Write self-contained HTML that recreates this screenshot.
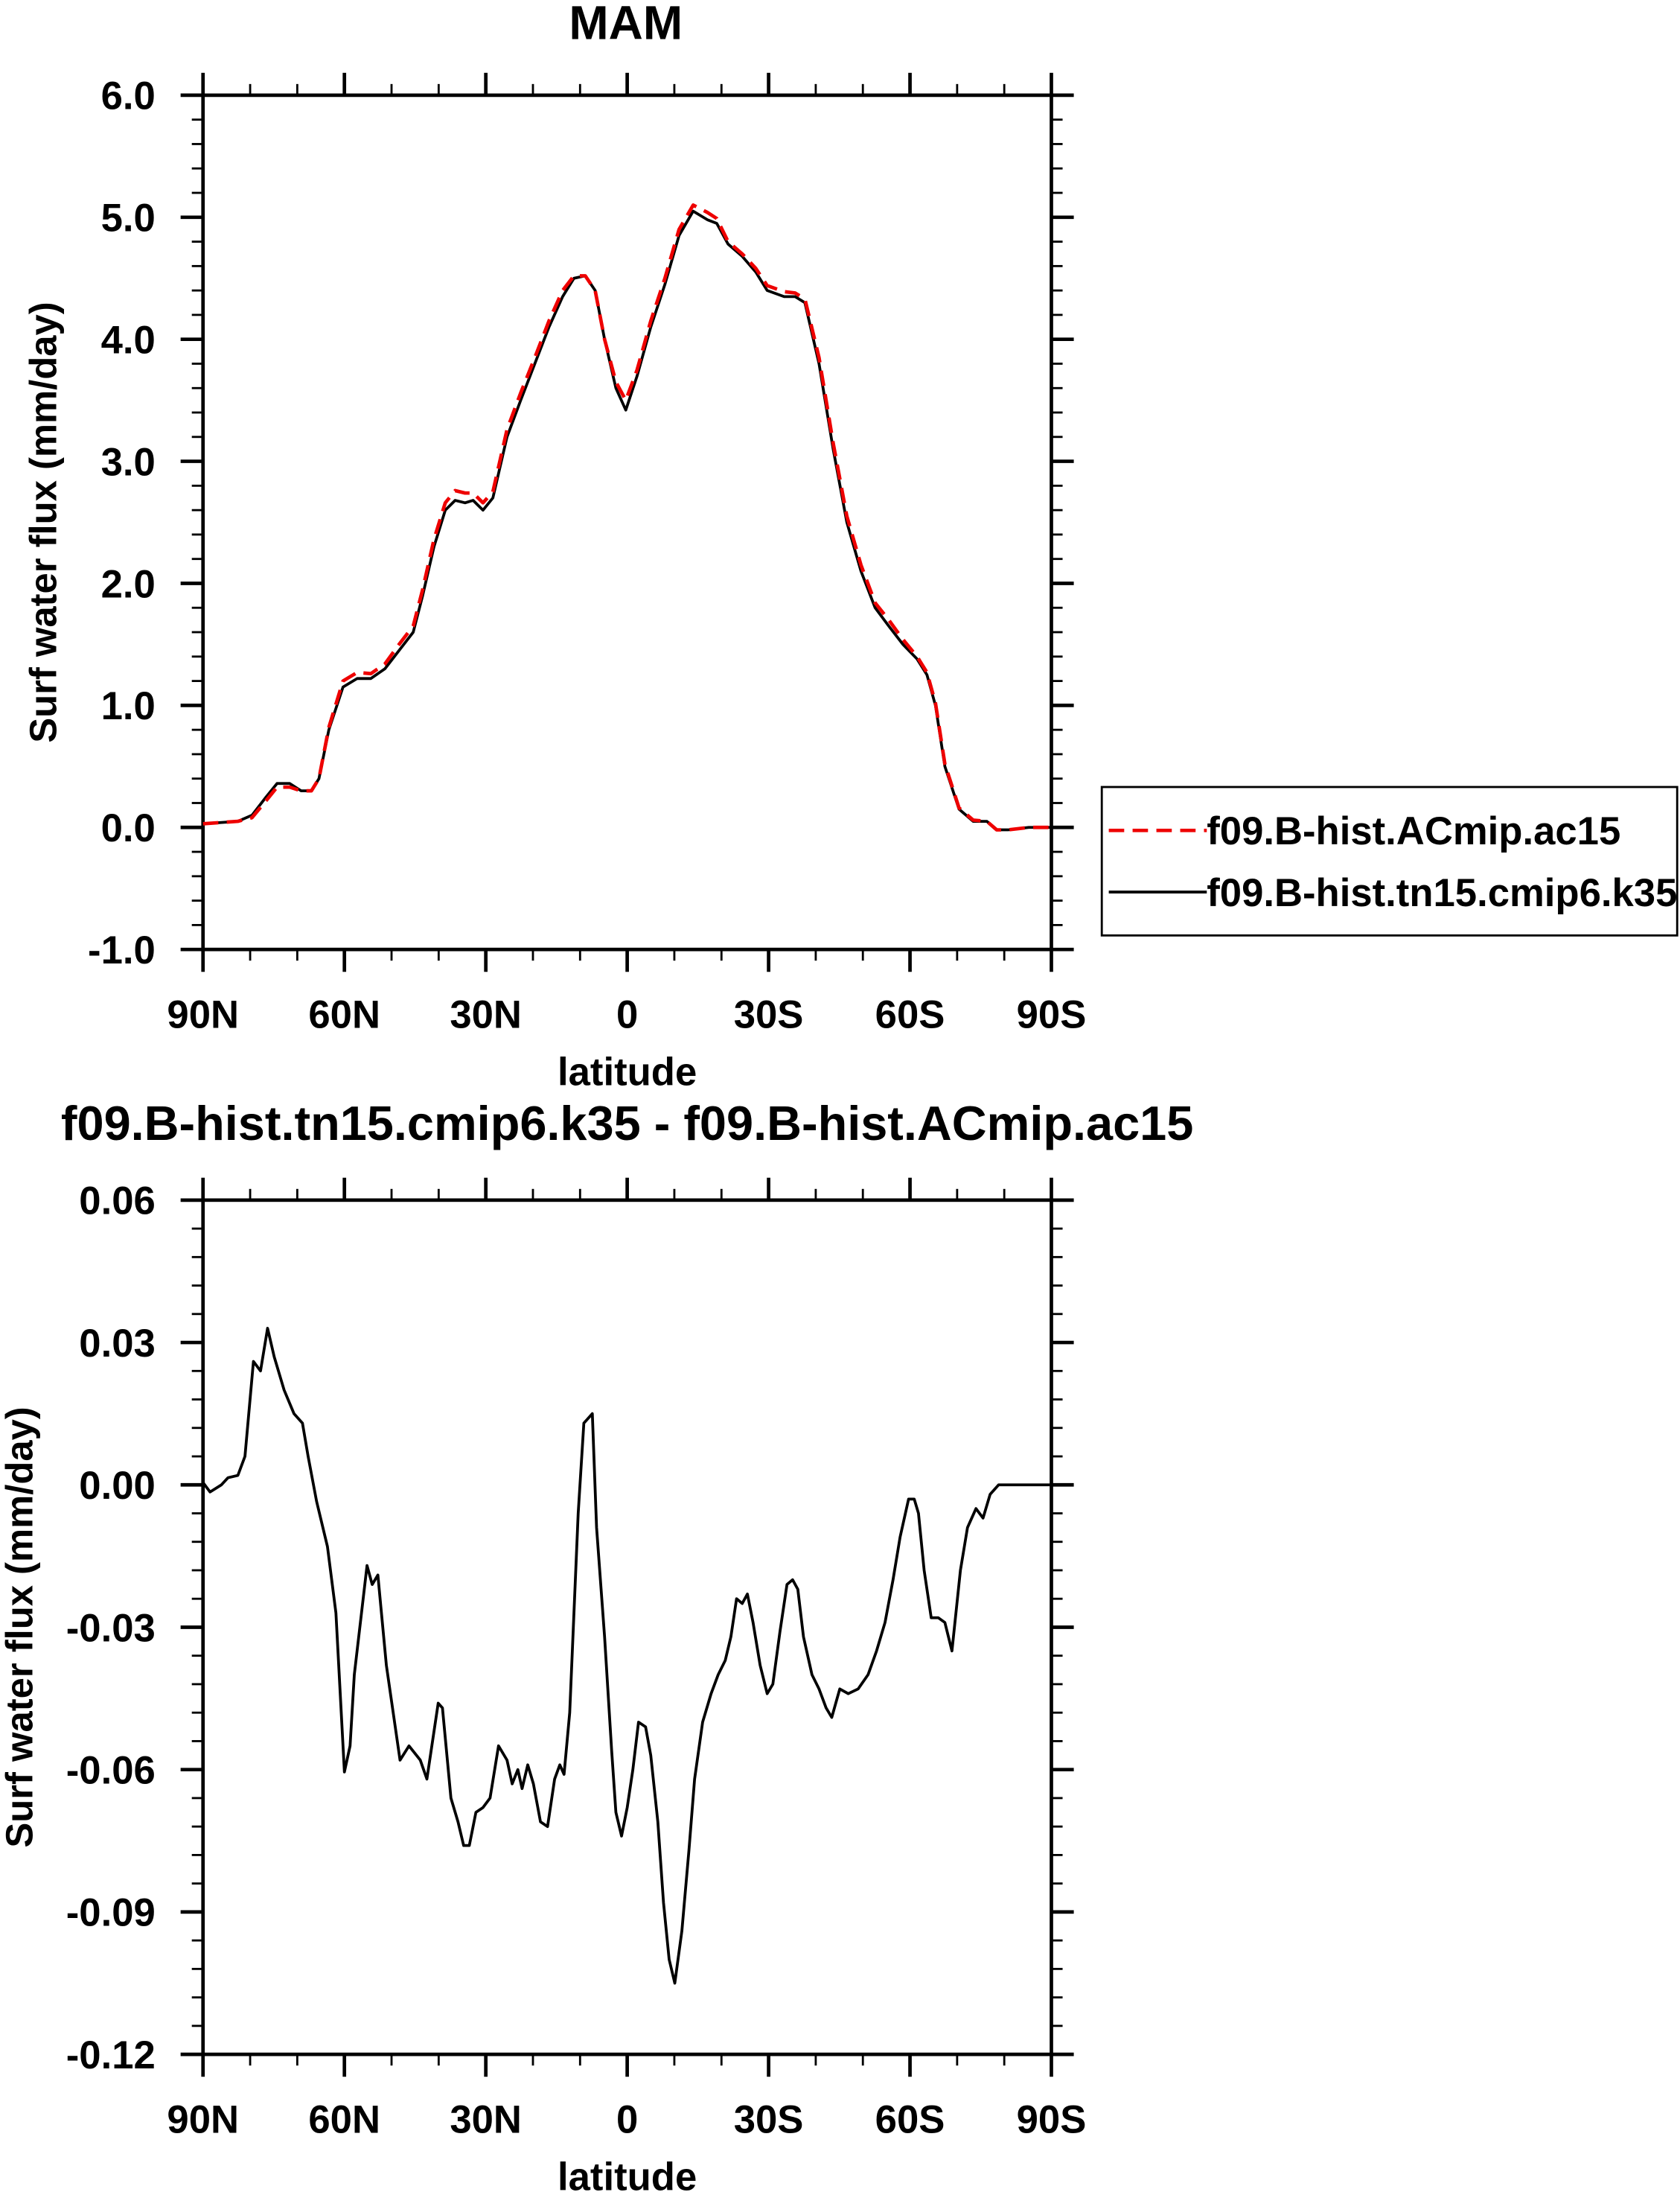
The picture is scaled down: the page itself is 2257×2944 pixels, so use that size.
<!DOCTYPE html>
<html><head><meta charset="utf-8"><style>
html,body{margin:0;padding:0;background:#fff;}
svg{display:block;}
text{font-family:"Liberation Sans",Arial,sans-serif;font-weight:bold;fill:#000;}
</style></head><body>
<svg id="chart" xmlns="http://www.w3.org/2000/svg" width="2257" height="2944" viewBox="0 0 1200 1565.3">
<text x="447" y="28" font-size="34" text-anchor="middle">MAM</text>
<text x="448" y="814" font-size="34.5" text-anchor="middle">f09.B-hist.tn15.cmip6.k35 - f09.B-hist.ACmip.ac15</text>
<g id="top"></g>
<g id="bot"></g>
<g>
<rect x="787" y="562" width="411" height="106" fill="#fff" stroke="#000" stroke-width="1.5"/>
<line x1="792" y1="593" x2="862" y2="593" stroke="#e00" stroke-width="2.5" stroke-dasharray="11,6"/>
<text x="862" y="603" font-size="28">f09.B-hist.ACmip.ac15</text>
<line x1="792" y1="637" x2="862" y2="637" stroke="#000" stroke-width="2"/>
<text x="862" y="647" font-size="28">f09.B-hist.tn15.cmip6.k35</text>
</g>
</svg>
<script>
const xTickLabels=["90N","60N","30N","0","30S","60S","90S"];
const xTickLats=[90,60,30,0,-30,-60,-90];
const topYTicks=[6,5,4,3,2,1,0,-1];
const topYLabels=["6.0","5.0","4.0","3.0","2.0","1.0","0.0","-1.0"];
const botYTicks=[0.06,0.03,0,-0.03,-0.06,-0.09,-0.12];
const botYLabels=["0.06","0.03","0.00","-0.03","-0.06","-0.09","-0.12"];
const topLat=[90,82.6,79.6,76.6,74.3,71.6,69.2,67,65.4,63.3,60.3,57.3,54.4,51.4,48.4,45.4,43.4,41,38.6,36.5,34.4,32.7,30.6,28.5,25.5,22.6,19.6,16.6,13.7,11.3,8.9,6.8,4.8,2.4,0.3,-2.1,-5,-8,-11,-14,-17,-19,-21.4,-24.4,-27.3,-29.7,-33.3,-35.6,-37.7,-40.7,-43.7,-46.6,-49.6,-52.6,-55.5,-58.5,-61.5,-63.6,-65.4,-67.4,-70.4,-73.4,-76.3,-78.4,-80.8,-85.2,-90];
const k35Top=[0.03,0.05,0.1,0.25,0.36,0.36,0.3,0.3,0.4,0.8,1.15,1.22,1.22,1.3,1.45,1.6,1.9,2.3,2.6,2.68,2.66,2.68,2.6,2.7,3.2,3.5,3.8,4.1,4.35,4.5,4.52,4.4,4.0,3.6,3.42,3.7,4.1,4.45,4.85,5.05,4.98,4.95,4.78,4.68,4.55,4.4,4.35,4.35,4.3,3.8,3.1,2.5,2.1,1.8,1.65,1.5,1.38,1.25,1.0,0.5,0.15,0.05,0.05,-0.02,-0.02,0.0,0.0];
const ac15Top=[0.03,0.05,0.08,0.22,0.33,0.33,0.3,0.3,0.4,0.82,1.2,1.27,1.26,1.34,1.5,1.65,1.95,2.36,2.66,2.76,2.74,2.74,2.66,2.75,3.26,3.56,3.85,4.15,4.4,4.52,4.52,4.4,4.0,3.65,3.5,3.75,4.15,4.5,4.9,5.1,5.04,4.99,4.8,4.7,4.58,4.44,4.39,4.38,4.33,3.85,3.15,2.55,2.15,1.84,1.7,1.54,1.4,1.27,1.02,0.52,0.16,0.06,0.05,-0.02,-0.02,0.0,0.0];
const botLat=[90,88.5,86.1,84.7,82.6,81.1,79.3,77.8,76.3,74.9,72.8,70.7,68.9,67.7,65.9,63.6,61.8,60.0,58.8,57.9,55.2,54.1,52.9,51.1,48.2,46.3,43.9,42.5,40.1,39.2,37.4,35.9,34.7,33.5,32.1,30.6,29.1,27.3,25.5,24.4,23.2,22.3,21.1,19.9,18.4,16.9,15.4,14.3,13.4,12.2,11.3,10.4,9.2,7.4,6.5,4.8,3.3,2.4,1.2,0.0,-1.2,-2.4,-3.9,-5.0,-6.5,-7.7,-8.9,-10.1,-11.6,-13.1,-14.3,-16.0,-17.8,-19.3,-20.8,-22.0,-23.2,-24.4,-25.5,-26.7,-28.2,-29.7,-30.9,-32.4,-33.9,-35.1,-36.2,-37.4,-39.2,-40.7,-42.2,-43.4,-45.1,-46.9,-49.0,-51.1,-52.9,-54.7,-56.4,-57.9,-59.7,-60.9,-61.8,-63.0,-64.5,-66.0,-67.4,-68.9,-70.7,-72.2,-74.0,-75.5,-77.0,-78.8,-82.3,-86.7,-90];
const diffVals=[0.0005,-0.0015,0,0.0015,0.002,0.006,0.026,0.024,0.033,0.027,0.02,0.015,0.013,0.006,-0.0035,-0.013,-0.027,-0.0605,-0.055,-0.040,-0.017,-0.021,-0.019,-0.038,-0.058,-0.055,-0.058,-0.062,-0.046,-0.047,-0.066,-0.071,-0.076,-0.076,-0.069,-0.068,-0.066,-0.055,-0.058,-0.063,-0.060,-0.064,-0.059,-0.063,-0.071,-0.072,-0.062,-0.059,-0.061,-0.048,-0.027,-0.006,0.013,0.015,-0.009,-0.032,-0.056,-0.069,-0.074,-0.068,-0.060,-0.050,-0.051,-0.057,-0.071,-0.088,-0.100,-0.105,-0.094,-0.077,-0.062,-0.050,-0.044,-0.040,-0.037,-0.032,-0.024,-0.025,-0.023,-0.029,-0.038,-0.044,-0.042,-0.031,-0.021,-0.020,-0.022,-0.032,-0.040,-0.043,-0.047,-0.049,-0.043,-0.044,-0.043,-0.040,-0.035,-0.029,-0.020,-0.011,-0.003,-0.003,-0.006,-0.018,-0.028,-0.028,-0.029,-0.035,-0.018,-0.009,-0.005,-0.007,-0.002,0,0,0,0];

const NS='http://www.w3.org/2000/svg';
function mk(tag,attrs,parent){const e=document.createElementNS(NS,tag);for(const k in attrs)e.setAttribute(k,attrs[k]);parent.appendChild(e);return e;}
const L=145,R=751;
function xs(lat){return L+(90-lat)/180*(R-L);}

function panel(g,T,B,ymax,ymin,yticks,ylabels,minorStep,name){
  const ys=v=>T+(ymax-v)/(ymax-ymin)*(B-T);
  const frame=mk('rect',{x:L,y:T,width:R-L,height:B-T,fill:'none',stroke:'#000','stroke-width':2.5},g);
  
  
  for(let lat=90;lat>=-90;lat-=10){
    const maj=lat%30===0, x=xs(lat), len=maj?16:8;
    mk('line',{x1:x,y1:B,x2:x,y2:B+len,stroke:'#000','stroke-width':maj?2.5:1.5},g);
    mk('line',{x1:x,y1:T,x2:x,y2:T-len,stroke:'#000','stroke-width':maj?2.5:1.5},g);
  }
  xTickLats.forEach((lat,i)=>{
    const t=mk('text',{x:xs(lat),y:B+56,'font-size':28,'text-anchor':'middle'},g);
    t.textContent=xTickLabels[i];
    
    
  });
  const xl=mk('text',{x:448,y:B+97,'font-size':28,'text-anchor':'middle'},g);
  xl.textContent='latitude';
  
  
  const n=Math.round((ymax-ymin)/minorStep);
  for(let i=0;i<=n;i++){
    const v=ymax-i*minorStep, y=ys(v);
    const maj=yticks.some(t=>Math.abs(t-v)<minorStep/10), len=maj?16:8;
    mk('line',{x1:L,y1:y,x2:L-len,y2:y,stroke:'#000','stroke-width':maj?2.5:1.5},g);
    mk('line',{x1:R,y1:y,x2:R+len,y2:y,stroke:'#000','stroke-width':maj?2.5:1.5},g);
  }
  yticks.forEach((v,i)=>{
    const t=mk('text',{x:L-34,y:ys(v)+10,'font-size':28,'text-anchor':'end'},g);
    t.textContent=ylabels[i];
    
    
  });
  const cy=(T+B)/2;
  const yl=mk('text',{x:0,y:0,'font-size':27,'text-anchor':'middle',transform:`translate(${name==='top'?40:23},${cy}) rotate(-90)`},g);
  yl.textContent='Surf water flux (mm/day)';
  
  
  return ys;
}
function line(g,lats,vals,ys,attrs,nm){
  const d=lats.map((la,i)=>(i?'L':'M')+xs(la).toFixed(2)+','+ys(vals[i]).toFixed(2)).join(' ');
  const p=mk('path',Object.assign({d:d,fill:'none','stroke-linejoin':'round'},attrs),g);
  
  
}
const gt=document.getElementById('top'), gb=document.getElementById('bot');
const ysT=panel(gt,68,678,6,-1,topYTicks,topYLabels,0.2,'top');
line(gt,topLat,k35Top,ysT,{stroke:'#000','stroke-width':2},'k35-line');
line(gt,topLat,ac15Top,ysT,{stroke:'#e00','stroke-width':2.5,'stroke-dasharray':'11,6'},'ac15-line');
const ysB=panel(gb,857,1467,0.06,-0.12,botYTicks,botYLabels,0.006,'bottom');
line(gb,botLat,diffVals,ysB,{stroke:'#000','stroke-width':2},'difference-line');
</script>
</body></html>
